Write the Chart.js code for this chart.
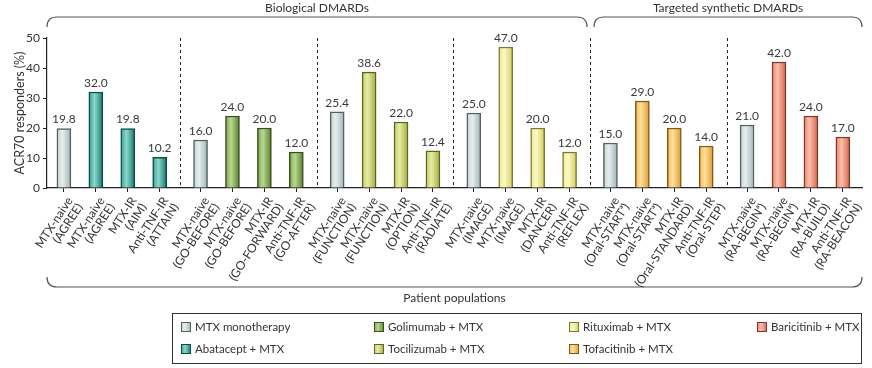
<!DOCTYPE html>
<html>
<head>
<meta charset="utf-8">
<script src="https://cdn.jsdelivr.net/npm/chart.js@4.4.1/dist/chart.umd.min.js"></script>
<style>
  html, body { margin: 0; padding: 0; background: #fff; }
  #wrap { width: 872px; height: 368px; }
</style>
</head>
<body>
<div id="wrap"><canvas id="grafica" width="872" height="368"></canvas></div>
<script>
// Datos del gráfico
const poblaciones = [
    'MTX-naive', 'MTX-naive', 'MTX-IR', 'Anti-TNF-IR',
    'MTX-naive', 'MTX-naive', 'MTX-IR', 'Anti-TNF-IR',
    'MTX-naive', 'MTX-naive', 'MTX-IR', 'Anti-TNF-IR',
    'MTX-naive', 'MTX-naive', 'MTX-IR', 'Anti-TNF-IR',
    'MTX-naive', 'MTX-naive', 'MTX-IR', 'Anti-TNF-IR',
    'MTX-naive', 'MTX-naive', 'MTX-IR', 'Anti-TNF-IR'
];
const estudios = [
    '(AGREE)', '(AGREE)', '(AIM)', '(ATTAIN)',
    '(GO-BEFORE)', '(GO-BEFORE)', '(GO-FORWARD)', '(GO-AFTER)',
    '(FUNCTION)', '(FUNCTION)', '(OPTION)', '(RADIATE)',
    '(IMAGE)', '(IMAGE)', '(DANCER)', '(REFLEX)',
    '(Oral-STARTᵃ)', '(Oral-STARTᵃ)', '(Oral-STANDARD)', '(Oral-STEP)',
    '(RA-BEGINᵃ)', '(RA-BEGINᵃ)', '(RA-BUILD)', '(RA-BEACON)'
];
const respondedores = [
    19.8, 32.0, 19.8, 10.2,
    16.0, 24.0, 20.0, 12.0,
    25.4, 38.6, 22.0, 12.4,
    25.0, 47.0, 20.0, 12.0,
    15.0, 29.0, 20.0, 14.0,
    21.0, 42.0, 24.0, 17.0
];
// tratamiento de cada barra (índice en la lista de tratamientos)
const tratamientoBarra = [
    0, 1, 1, 1,
    0, 2, 2, 2,
    0, 3, 3, 3,
    0, 4, 4, 4,
    0, 5, 5, 5,
    0, 6, 6, 6
];
const tratamientos = [
    'MTX monotherapy', 'Abatacept + MTX', 'Golimumab + MTX', 'Tocilizumab + MTX',
    'Rituximab + MTX', 'Tofacitinib + MTX', 'Baricitinib + MTX'
];
const ticksY = [0, 10, 20, 30, 40, 50];
const clases = ['Biological DMARDs', 'Targeted synthetic DMARDs'];

// Colores: [claro, medio, oscuro, borde]
const colores = [
    ['#e6eeee', '#c5d5d5', '#9fb3b3', '#55605f'],
    ['#8fd6cb', '#2aa292', '#137a6d', '#0e4d46'],
    ['#b9d891', '#7ba64c', '#55802f', '#38501f'],
    ['#e6eba6', '#c8d160', '#a3ab3c', '#5f6426'],
    ['#fbf9c8', '#efeb88', '#d4cf5c', '#7d7939'],
    ['#fde0a0', '#f6bd4e', '#e09a28', '#7e5a1c'],
    ['#fbbfac', '#ef8468', '#d8644a', '#7d3a2b']
];

const FUENTE = 'Lato, "Open Sans", sans-serif';
const PASO_GRUPO = 4.28; // separación entre grupos de 4 barras
const posX = respondedores.map((v, i) => Math.floor(i / 4) * PASO_GRUPO + (i % 4));

function gradienteBarra(ctx) {
    const chart = ctx.chart;
    const i = ctx.dataIndex;
    const c = colores[tratamientoBarra[i]];
    const escala = chart.scales && chart.scales.x;
    const px = escala ? escala.getPixelForValue(posX[i]) : NaN;
    if (!isFinite(px)) return c[1];
    const g = chart.ctx.createLinearGradient(px - 7, 0, px + 7, 0);
    g.addColorStop(0, c[1]);
    g.addColorStop(0.4, c[0]);
    g.addColorStop(1, c[2]);
    return g;
}

// Plugin: separadores, etiquetas de valores, llaves y leyenda
const decoraciones = {
    id: 'decoraciones',
    afterDatasetsDraw(chart) {
        const { ctx, chartArea, scales } = chart;
        ctx.save();
        // líneas discontinuas entre grupos
        ctx.strokeStyle = '#222';
        ctx.lineWidth = 1;
        ctx.setLineDash([3, 3]);
        for (let g = 0; g < 5; g++) {
            const x = Math.round(scales.x.getPixelForValue(g * PASO_GRUPO + 3 + (PASO_GRUPO - 3) / 2)) + 0.5;
            ctx.beginPath();
            ctx.moveTo(x, chartArea.top);
            ctx.lineTo(x, chartArea.bottom);
            ctx.stroke();
        }
        ctx.setLineDash([]);
        // valores sobre las barras
        ctx.fillStyle = '#3a3a3a';
        ctx.font = '12px ' + FUENTE;
        ctx.textAlign = 'center';
        ctx.textBaseline = 'bottom';
        chart.getDatasetMeta(0).data.forEach((el, i) => {
            ctx.fillText(respondedores[i].toFixed(1), el.x, el.y - 3);
        });
        ctx.restore();
    },
    afterDraw(chart) {
        const { ctx, chartArea, scales } = chart;
        ctx.save();
        ctx.strokeStyle = '#555';
        ctx.lineWidth = 1.2;
        ctx.fillStyle = '#333';
        ctx.font = '12px ' + FUENTE;
        ctx.textAlign = 'center';

        // llaves superiores
        const yLinea = 17, r = 10;
        const corte = scales.x.getPixelForValue(3 * PASO_GRUPO + 3 + (PASO_GRUPO - 3) / 2);
        const tramos = [[chartArea.left, corte - 3], [corte + 4, chartArea.right]];
        tramos.forEach(([a, b], k) => {
            ctx.beginPath();
            ctx.moveTo(a, yLinea + r);
            ctx.quadraticCurveTo(a, yLinea, a + r, yLinea);
            ctx.lineTo(b - r, yLinea);
            ctx.quadraticCurveTo(b, yLinea, b, yLinea + r);
            ctx.stroke();
            ctx.textBaseline = 'bottom';
            ctx.fillText(clases[k], (a + b) / 2, yLinea - 3);
        });

        // llave inferior
        const yInf = 287;
        const a = chartArea.left, b = chartArea.right;
        ctx.beginPath();
        ctx.moveTo(a, yInf - r);
        ctx.quadraticCurveTo(a, yInf, a + r, yInf);
        ctx.lineTo(b - r, yInf);
        ctx.quadraticCurveTo(b, yInf, b, yInf - r);
        ctx.stroke();
        ctx.textBaseline = 'middle';
        ctx.fillText('Patient populations', (a + b) / 2, 298);

        // leyenda
        const lx = 172.5, ly = 313.5, lw = 689, lh = 50;
        ctx.strokeStyle = '#333';
        ctx.lineWidth = 1;
        ctx.strokeRect(lx, ly, lw, lh);
        const colX = [181, 374, 569, 757];
        const filas = [327, 349];
        ctx.font = '11.5px ' + FUENTE;
        tratamientos.forEach((t, k) => {
            const col = Math.floor(k / 2), fila = k % 2;
            const x = colX[col], y = filas[fila];
            const c = colores[k];
            const g = ctx.createLinearGradient(x, 0, x + 10, 0);
            g.addColorStop(0, c[1]);
            g.addColorStop(0.4, c[0]);
            g.addColorStop(1, c[2]);
            ctx.fillStyle = g;
            ctx.fillRect(x, y - 5, 10, 10);
            ctx.strokeStyle = c[3];
            ctx.strokeRect(x + 0.5, y - 4.5, 9, 9);
            ctx.fillStyle = '#333';
            ctx.textAlign = 'left';
            ctx.textBaseline = 'middle';
            ctx.fillText(t, x + 14, y);
        });
        ctx.restore();
    }
};

const ctx = document.getElementById('grafica').getContext('2d');
const grafica = new Chart(ctx, {
    type: 'bar',
    data: {
        datasets: [{
            data: respondedores.map((v, i) => ({ x: posX[i], y: v })),
            backgroundColor: gradienteBarra,
            borderColor: tratamientoBarra.map(t => colores[t][3]),
            borderWidth: 1.5,
            borderSkipped: 'bottom',
            barThickness: 14
        }]
    },
    options: {
        responsive: false,
        animation: false,
        layout: { padding: { top: 38, right: 10, left: 0, bottom: 0 } },
        plugins: {
            legend: { display: false },
            tooltip: { enabled: false }
        },
        scales: {
            x: {
                type: 'linear',
                offset: false,
                min: -0.53,
                max: 5 * PASO_GRUPO + 3 + 0.6,
                afterBuildTicks(scale) {
                    scale.ticks = posX.map(v => ({ value: v }));
                },
                afterFit(scale) { scale.height = 180; },
                grid: { drawOnChartArea: false, offset: false, tickLength: 4, color: '#222' },
                border: { color: '#222', width: 1.2 },
                ticks: {
                    autoSkip: false,
                    maxRotation: 57,
                    minRotation: 57,
                    padding: 3,
                    labelOffset: 6,
                    color: '#333',
                    font: { family: FUENTE, size: 12, lineHeight: 1.0 },
                    callback: (value, index) => [poblaciones[index], estudios[index]]
                }
            },
            y: {
                min: 0,
                max: 50,
                afterBuildTicks(scale) {
                    scale.ticks = ticksY.map(v => ({ value: v }));
                },
                afterFit(scale) { scale.width = 47; },
                grid: { drawOnChartArea: false, tickLength: 4, color: '#222' },
                border: { color: '#222', width: 1.2 },
                ticks: {
                    padding: 3,
                    color: '#333',
                    font: { family: FUENTE, size: 12 }
                },
                title: {
                    display: true,
                    text: 'ACR70 responders (%)',
                    color: '#333',
                    font: { family: FUENTE, size: 12.5 },
                    padding: { top: 12, bottom: 0 }
                }
            }
        }
    },
    plugins: [decoraciones]
});
</script>
</body>
</html>
